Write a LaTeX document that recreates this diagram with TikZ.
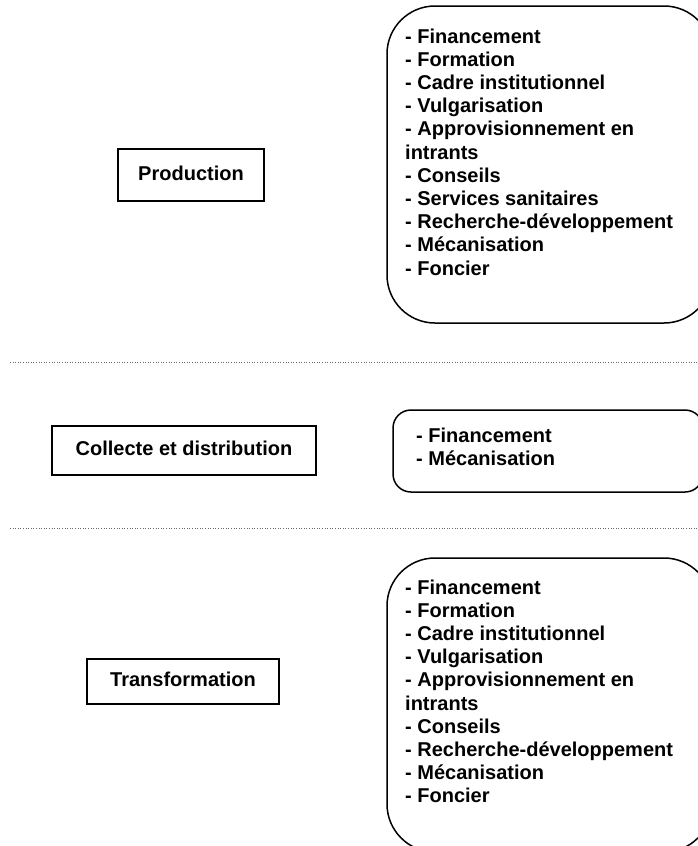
\documentclass[tikz,border=0pt]{standalone}
\usepackage{fontspec}
\setmainfont{Liberation Sans}
\begin{document}
\begin{tikzpicture}[x=1pt,y=-1pt,
  stagebox/.style={draw, line width=1.3pt, inner sep=0pt, align=center,
    font=\fontsize{20}{23.2}\selectfont\bfseries, text height=14pt, text depth=4pt},
  listbox/.style={draw, line width=1.5pt},
  item/.style={anchor=base west, inner sep=0pt, font=\fontsize{20}{23.2}\selectfont\bfseries},
  sepline/.style={draw=black!60, line width=0.9pt, dash pattern=on 1pt off 1.6pt}]
\useasboundingbox (0,0) rectangle (698,846);
\clip (0,0) rectangle (698,846);

% separators between the three stages
\draw[sepline] (10,362) -- (698,362);
\draw[sepline] (10,528) -- (698,528);

% stage labels
\node[stagebox, minimum width=146pt, minimum height=52pt] (prod) at (191,175) {Production};
\node[stagebox, minimum width=264pt, minimum height=49pt] (coll) at (184,450.5) {Collecte et distribution};
\node[stagebox, minimum width=192pt, minimum height=45pt] (trans) at (183,681.5) {Transformation};

% support lists
\draw[listbox, rounded corners=48pt] (387,6) rectangle (712,323);
\draw[listbox, rounded corners=18pt] (393,410) rectangle (703,492);
\draw[listbox, rounded corners=48pt] (387,558) rectangle (712,852);

\foreach \t [count=\i] in {{- Financement},{- Formation},{- Cadre institutionnel},
  {- Vulgarisation},{- Approvisionnement en},{intrants},{- Conseils},
  {- Services sanitaires},{- Recherche-développement},{- Mécanisation},{- Foncier}}
  \node[item] (prod-\i) at (405,{43+23.2*(\i-1)}) {\t};

\foreach \t [count=\i] in {{- Financement},{- Mécanisation}}
  \node[item] (coll-\i) at (416,{442+23*(\i-1)}) {\t};

\foreach \t [count=\i] in {{- Financement},{- Formation},{- Cadre institutionnel},
  {- Vulgarisation},{- Approvisionnement en},{intrants},{- Conseils},
  {- Recherche-développement},{- Mécanisation},{- Foncier}}
  \node[item] (trans-\i) at (405,{594+23.2*(\i-1)}) {\t};
\end{tikzpicture}
\end{document}
